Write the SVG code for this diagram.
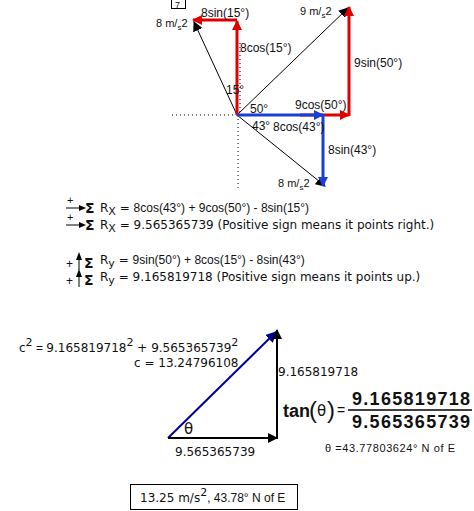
<svg xmlns="http://www.w3.org/2000/svg" width="474" height="511" viewBox="0 0 474 511">
<defs>
<marker id="ar" viewBox="0 0 10 10" refX="9" refY="5" markerWidth="10" markerHeight="10" markerUnits="userSpaceOnUse" orient="auto"><path d="M0,0 L10,5 L0,10 z" fill="#e00000"/></marker>
<marker id="ab" viewBox="0 0 10 10" refX="9" refY="5" markerWidth="10" markerHeight="10" markerUnits="userSpaceOnUse" orient="auto"><path d="M0,0 L10,5 L0,10 z" fill="#1a3fd6"/></marker>
<marker id="ak" viewBox="0 0 10 10" refX="9" refY="5" markerWidth="10" markerHeight="10" markerUnits="userSpaceOnUse" orient="auto"><path d="M0,0 L10,5 L0,10 z" fill="#000"/></marker>
<marker id="an" viewBox="0 0 10 10" refX="9" refY="5" markerWidth="11" markerHeight="11" markerUnits="userSpaceOnUse" orient="auto"><path d="M0,0 L10,5 L0,10 z" fill="#000099"/></marker>
</defs>
<style>
text{fill:#111}
.t{font-family:"DejaVu Sans",Verdana,sans-serif;font-size:12px}
.n{font-family:"Liberation Sans",Arial,sans-serif;font-size:12px}
.red{stroke:#e00000;stroke-width:3;fill:none}
.blue{stroke:#1a3fd6;stroke-width:3;fill:none}
.blk{stroke:#000;fill:none}
.dot{stroke:#000;stroke-width:1;stroke-dasharray:1,3;fill:none}
</style>
<rect width="474" height="511" fill="#fff"/>
<g id="connectors">
<path class="dot" d="M172,115 H237 M238,115 V188 M240,43 V112"/>
<line class="blk" x1="237" y1="115" x2="194" y2="22" stroke-width="1" marker-end="url(#ak)"/>
<line class="blk" x1="237" y1="115" x2="348" y2="8" stroke-width="1" marker-end="url(#ak)"/>
<line class="blk" x1="237" y1="115" x2="325" y2="186" stroke-width="1" marker-end="url(#ak)"/>
<line class="red" x1="237" y1="115" x2="237" y2="21" marker-end="url(#ar)"/>
<line class="red" x1="237" y1="20" x2="193" y2="20" marker-end="url(#ar)"/>
<line class="red" x1="300" y1="115" x2="349" y2="115" marker-end="url(#ar)"/>
<line class="red" x1="349" y1="116" x2="349" y2="7" marker-end="url(#ar)"/>
<line class="blue" x1="237" y1="115" x2="323" y2="115" marker-end="url(#ab)"/>
<line class="blue" x1="323" y1="114" x2="323" y2="186" marker-end="url(#ab)"/>
<line x1="168" y1="438" x2="276" y2="332" stroke="#000099" stroke-width="2" marker-end="url(#an)"/>
<line class="blk" x1="277" y1="439" x2="277" y2="330" stroke-width="2" marker-end="url(#ak)"/>
<line class="blk" x1="168" y1="438" x2="277" y2="438" stroke-width="2" marker-end="url(#ak)"/>
</g>
<g id="labels-top">
<rect x="171.5" y="-1" width="14" height="9.5" fill="none" stroke="#000" stroke-width="1"/>
<text class="n" x="175" y="8" style="font-size:9px">7</text>
<text class="n" x="201" y="17">8sin(15°)</text>
<text class="n" x="240" y="52">8cos(15°)</text>
<text class="n" x="226" y="94">15°</text>
<text class="n" x="156" y="27" style="font-size:11px">8 m/<tspan baseline-shift="-3" style="font-size:8px">s</tspan>2</text>
<text class="n" x="300" y="15" style="font-size:11px">9 m/<tspan baseline-shift="-3" style="font-size:8px">s</tspan>2</text>
<text class="n" x="354" y="67">9sin(50°)</text>
<text class="n" x="295" y="109">9cos(50°)</text>
<text class="n" x="250" y="113">50°</text>
<text class="n" x="252" y="130">43°</text>
<text class="n" x="273" y="131">8cos(43°)</text>
<text class="n" x="328" y="154">8sin(43°)</text>
<text class="n" x="278" y="187" style="font-size:11px">8 m/<tspan baseline-shift="-3" style="font-size:8px">s</tspan>2</text>
</g>
<g id="equations">
<g id="sym1"><text class="n" x="67" y="204" style="font-size:11px">+</text><path d="M66,208 H82" stroke="#000"/><path d="M79,205 L86,208 L79,211 z"/><text class="t" x="85" y="213" style="font-size:14px;font-weight:bold">Σ</text></g>
<g id="sym2"><text class="n" x="67" y="221" style="font-size:11px">+</text><path d="M66,225 H82" stroke="#000"/><path d="M79,222 L86,225 L79,228 z"/><text class="t" x="85" y="230" style="font-size:14px;font-weight:bold">Σ</text></g>
<text class="t" x="100" y="212">R<tspan baseline-shift="-3" style="font-size:11px">X</tspan> = <tspan class="n">8cos(43°) + 9cos(50°) - 8sin(15°)</tspan></text>
<text class="t" x="100" y="229">R<tspan baseline-shift="-3" style="font-size:11px">X</tspan> = 9.565365739 (Positive sign means it points right.)</text>
<g id="sym3"><text class="n" x="66" y="268" style="font-size:12px">+</text><path d="M79,270 V258" stroke="#000"/><path d="M76,260 L79,252 L82,260 z"/><text class="t" x="84" y="268" style="font-size:14px;font-weight:bold">Σ</text></g>
<g id="sym4"><text class="n" x="66" y="285" style="font-size:12px">+</text><path d="M79,287 V275" stroke="#000"/><path d="M76,277 L79,269 L82,277 z"/><text class="t" x="84" y="285" style="font-size:14px;font-weight:bold">Σ</text></g>
<text class="t" x="100" y="264">R<tspan baseline-shift="-3" style="font-size:11px">y</tspan> = <tspan class="n">9sin(50°) + 8cos(15°) - 8sin(43°)</tspan></text>
<text class="t" x="100" y="281">R<tspan baseline-shift="-3" style="font-size:11px">y</tspan> = 9.165819718 (Positive sign means it points up.)</text>
</g>
<g id="labels-bottom">
<text class="t" x="19" y="352">c<tspan baseline-shift="super" style="font-size:11px">2</tspan><tspan class="n"> = </tspan>9.165819718<tspan baseline-shift="super" style="font-size:11px">2</tspan> + 9.565365739<tspan baseline-shift="super" style="font-size:11px">2</tspan></text>
<text class="t" x="134" y="367">c = 13.24796108</text>
<text class="t" x="184" y="434" style="font-size:15px">θ</text>
<text class="t" x="175" y="456">9.565365739</text>
<text class="t" x="278" y="376">9.165819718</text>
<text class="n" x="283" y="417" style="font-size:18px;font-weight:bold">tan</text>
<text class="n" x="309" y="418" style="font-size:24px">(</text>
<text class="t" x="317" y="416" style="font-size:15px">θ</text>
<text class="n" x="327" y="418" style="font-size:24px">)</text>
<text class="n" x="337" y="415" style="font-size:14px">=</text>
<text class="n" x="352" y="405" style="font-size:18px;font-weight:bold;letter-spacing:1.3px">9.165819718</text>
<path d="M348,410 H472" stroke="#000" stroke-width="1.5"/>
<text class="n" x="352" y="428" style="font-size:18px;font-weight:bold;letter-spacing:1.3px">9.565365739</text>
<text class="n" x="325" y="452" style="font-size:11px" textLength="130">θ =43.77803624° N of E</text>
</g>
<g id="result">
<rect x="130.5" y="484.5" width="167" height="25" fill="none" stroke="#000" stroke-width="1"/>
<text class="t" x="140" y="502">13.25 m/s<tspan baseline-shift="super" style="font-size:11px">2</tspan><tspan class="n">, 43.78° N of E</tspan></text>
</g>
</svg>
